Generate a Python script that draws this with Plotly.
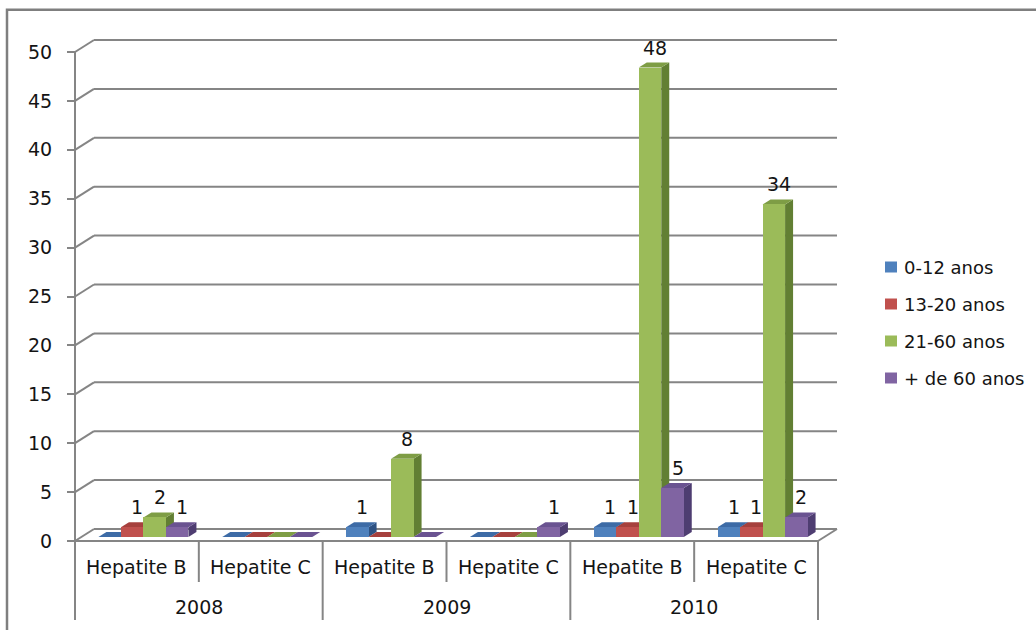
import plotly.graph_objects as go

# ---------------------------------------------------------------- data
years = ["2008", "2009", "2010"]
diseases = ["Hepatite B", "Hepatite C"]
series_names = ["0-12 anos", "13-20 anos", "21-60 anos", "+ de 60 anos"]
age_0_12 = [0, 0, 1, 0, 1, 1]
age_13_20 = [1, 0, 0, 0, 1, 1]
age_21_60 = [2, 0, 8, 0, 48, 34]
age_60_plus = [1, 0, 0, 1, 5, 2]
y_tick_values = [0, 5, 10, 15, 20, 25, 30, 35, 40, 45, 50]

series_values = [age_0_12, age_13_20, age_21_60, age_60_plus]

# ---------------------------------------------------------------- styles
front_colors = ["#4F81BD", "#C0504D", "#9BBB59", "#8064A2"]
top_colors = ["#3D6BA6", "#A6403D", "#7E9D45", "#6A5391"]
side_colors = ["#2E5283", "#85302D", "#627F33", "#4E3D71"]
GRID = "#858585"
TEXT = "#141414"
FONT = "DejaVu Sans"
FS = 19
FS_LEGEND = 18

W, H = 1036, 630
N_CAT = len(years) * len(diseases)
Y_MAX = y_tick_values[-1]

# pixel frame of the front plane of the 3-D box
PX_LEFT, PX_RIGHT = 75, 818
PX_ZERO, PX_TOP = 541, 52
PX_PER_CAT = (PX_RIGHT - PX_LEFT) / N_CAT
PX_PER_UNIT = (PX_ZERO - PX_TOP) / Y_MAX


def dx(px):
    """horizontal pixel length -> category units"""
    return px / PX_PER_CAT


def dy(px):
    """vertical pixel length -> value units"""
    return px / PX_PER_UNIT


def xd(px):
    return (px - PX_LEFT) / PX_PER_CAT


def yd(py):
    return (PX_ZERO - py) / PX_PER_UNIT


# depth of the back wall, position of the bar row and bar size (pixels)
WALL_DX, WALL_DY = dx(19), dy(12)
ROW_DX, ROW_DY = dx(6.5), dy(4)
BAR_DX, BAR_DY = dx(8), dy(5)
BAR_W = dx(22.5)

shapes = []


def seg(x0, y0, x1, y1, width=2, color=GRID):
    shapes.append(dict(type="line", xref="x", yref="y", x0=x0, y0=y0, x1=x1, y1=y1,
                       line=dict(color=color, width=width), layer="below"))


def poly(points, color):
    path = "M" + " L".join(f"{x},{y}" for x, y in points) + " Z"
    shapes.append(dict(type="path", xref="x", yref="y", path=path,
                       fillcolor=color, line=dict(width=0), layer="below"))


# back wall gridlines with their diagonal return to the front axis
for v in y_tick_values:
    seg(0, v, WALL_DX, v + WALL_DY)
    seg(WALL_DX, v + WALL_DY, N_CAT + WALL_DX, v + WALL_DY)

# floor: front edge and right edge
seg(0, 0, N_CAT, 0)
seg(N_CAT, 0, N_CAT + WALL_DX, WALL_DY)

# value axis line and category table
seg(0, Y_MAX, 0, yd(620))
for k in range(1, N_CAT + 1):
    bottom = yd(620) if k % len(diseases) == 0 else yd(582)
    seg(k, 0, k, bottom)

# top and side faces of every bar, drawn left to right
bar_centers = []
for s, vals in enumerate(series_values):
    centers = [k + 0.5 + ROW_DX + (s - (len(series_values) - 1) / 2) * BAR_W
               for k in range(N_CAT)]
    bar_centers.append(centers)

for k in range(N_CAT):
    for s, vals in enumerate(series_values):
        c = bar_centers[s][k]
        xl, xr = c - BAR_W / 2, c + BAR_W / 2
        yb, yt = ROW_DY, ROW_DY + vals[k]
        if vals[k] > 0:
            poly([(xr, yb), (xr + BAR_DX, yb + BAR_DY), (xr + BAR_DX, yt + BAR_DY), (xr, yt)],
                 side_colors[s])
        poly([(xl, yt), (xr, yt), (xr + BAR_DX, yt + BAR_DY), (xl + BAR_DX, yt + BAR_DY)],
             top_colors[s])

fig = go.Figure()

# front faces of the bars
for s, vals in enumerate(series_values):
    fig.add_trace(go.Bar(
        x=bar_centers[s], y=vals, base=[ROW_DY] * N_CAT, width=BAR_W,
        name=series_names[s], marker=dict(color=front_colors[s], line=dict(width=0)),
        showlegend=False, hoverinfo="skip"))

annotations = []

# value labels above the non-zero bars
for s, vals in enumerate(series_values):
    for k, v in enumerate(vals):
        if v > 0:
            annotations.append(dict(
                x=bar_centers[s][k] + dx(5), y=v, xref="x", yref="y",
                text=str(v), showarrow=False, yanchor="middle", yshift=24,
                font=dict(family=FONT, size=FS, color=TEXT)))

# category labels
for g, year in enumerate(years):
    for d, name in enumerate(diseases):
        k = g * len(diseases) + d
        annotations.append(dict(x=k + 0.5, y=yd(567), xref="x", yref="y", text=name,
                                showarrow=False, yanchor="middle",
                                font=dict(family=FONT, size=FS, color=TEXT)))
    annotations.append(dict(x=g * len(diseases) + len(diseases) / 2, y=yd(607),
                            xref="x", yref="y", text=year, showarrow=False,
                            yanchor="middle", font=dict(family=FONT, size=FS, color=TEXT)))

# legend
LEG_X, LEG_Y0, LEG_STEP = 885, 267, 37
for s, name in enumerate(series_names):
    cy = LEG_Y0 + s * LEG_STEP
    shapes.append(dict(type="rect", xref="paper", yref="paper",
                       x0=LEG_X / W, x1=(LEG_X + 12) / W,
                       y0=1 - (cy + 5.5) / H, y1=1 - (cy - 5.5) / H,
                       fillcolor=front_colors[s], line=dict(width=0), layer="above"))
    annotations.append(dict(x=(LEG_X + 17) / W, y=1 - cy / H, xref="paper", yref="paper",
                            text=name, showarrow=False, xanchor="left", yanchor="middle",
                            font=dict(family=FONT, size=FS_LEGEND, color=TEXT)))

# chart frame
shapes.append(dict(type="rect", xref="paper", yref="paper",
                   x0=7 / W, x1=1.02, y0=-0.02, y1=1 - 9.7 / H,
                   line=dict(color="#7f7f7f", width=2.5), layer="above"))

fig.update_layout(
    width=W, height=H, autosize=False,
    margin=dict(l=0, r=0, t=0, b=0, pad=0),
    paper_bgcolor="white", plot_bgcolor="white",
    barmode="overlay", bargap=0,
    shapes=shapes, annotations=annotations,
    showlegend=False,
    xaxis=dict(range=[xd(0), xd(W)], visible=False, fixedrange=True),
    yaxis=dict(range=[yd(H), yd(0)], anchor="free", position=PX_LEFT / W,
               tickvals=y_tick_values, ticktext=[str(v) for v in y_tick_values],
               ticks="outside", ticklen=8, tickwidth=2, tickcolor=GRID,
               showgrid=False, zeroline=False, showline=False, automargin=False,
               ticklabelstandoff=11,
               tickfont=dict(family=FONT, size=FS, color=TEXT), fixedrange=True),
)

fig.write_html("out.html")
